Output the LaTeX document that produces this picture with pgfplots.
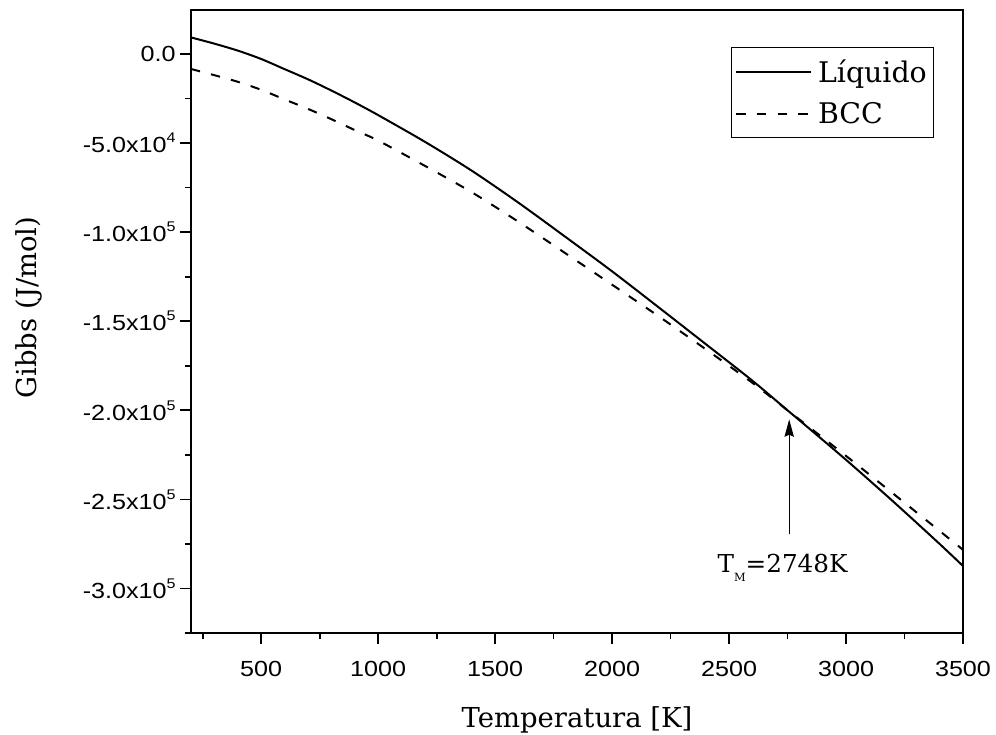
\documentclass[border=0pt]{standalone}
\usepackage{fontspec}
\usepackage{pgfplots}
\pgfplotsset{compat=1.18}
\usetikzlibrary{arrows.meta}
\setmainfont{DejaVu Serif}
\newfontfamily\tickfont[FakeStretch=1.15]{Liberation Sans}
\newcommand\sci[2]{#1x10\raisebox{7.5pt}{\fontsize{10.5}{10.5}\selectfont #2}}
\begin{document}
\begin{tikzpicture}
\path[use as bounding box] (0,0) rectangle (747pt,-551.25pt);
\begin{axis}[
  at={(143.25pt,-474.75pt)}, anchor=south west,
  scale only axis, width=579pt, height=467.25pt,
  xmin=200, xmax=3500, ymin=-325000, ymax=24700,
  axis line style={line width=1.6pt},
  tick align=outside, tick pos=left,
  major tick length=8pt, minor tick length=4.8pt,
  tick style={line width=1.3pt, black},
  xtick={500,1000,1500,2000,2500,3000,3500},
  xticklabels={500,1000,1500,2000,2500,3000,3500},
  minor xtick={250,750,1250,1750,2250,2750,3250},
  ytick={-300000,-250000,-200000,-150000,-100000,-50000,0},
  yticklabels={\sci{-3.0}{5},\sci{-2.5}{5},\sci{-2.0}{5},\sci{-1.5}{5},\sci{-1.0}{5},\sci{-5.0}{4},0.0},
  minor ytick={-325000,-275000,-225000,-175000,-125000,-75000,-25000},
  scaled ticks=false,
  ticklabel style={font=\tickfont\fontsize{16.4}{16.4}\selectfont},
  xticklabel style={yshift=-9.5pt},
  legend style={at={(rel axis cs:0.699,0.940)}, anchor=north west, draw=black, line width=0.75pt,
    inner xsep=3.2pt, inner ysep=7pt, row sep=9.2pt, column sep=2.5pt,
    font=\fontsize{21.3}{21.3}\selectfont, cells={anchor=west}},
  legend image code/.code={\draw[#1] (0pt,0pt) -- (56pt,0pt);},
]
\addplot[black, line width=1.5pt, smooth] table {
T G
200 9300
300 5800
400 1900
500 -2800
600 -8500
700 -14200
800 -20500
900 -27200
1000 -34300
1200 -49300
1400 -65500
1600 -83500
1800 -102600
2000 -122000
2200 -142300
2400 -162800
2600 -183400
2748 -199800
2800 -205500
3000 -227800
3200 -251000
3400 -275000
3500 -287400
};
\addlegendentry{Líquido}
\addplot[black, line width=1.5pt, smooth, dash pattern=on 7pt off 8.5pt] table {
T G
200 -8400
300 -11900
400 -15600
500 -20100
600 -25500
700 -30800
800 -36600
900 -42700
1000 -48600
1200 -62800
1400 -77600
1600 -94200
1800 -111800
2000 -129500
2200 -147300
2400 -165700
2600 -184600
2748 -199800
2800 -205100
3000 -225600
3200 -246600
3400 -267700
3500 -278300
};
\addlegendentry{BCC}
\draw[line width=0.75pt, -{Stealth[length=13pt,width=7pt,inset=1.5pt]}] (axis cs:2757,-269600) -- (axis cs:2757,-205100);
\node[anchor=base west, inner sep=0pt, font=\fontsize{18.5}{18.5}\selectfont] at (axis cs:2450,-291070) {T\raisebox{-6.5pt}{\fontsize{8.5}{8.5}\selectfont M}=2748K};
\end{axis}
\node[anchor=base, inner sep=0pt, font=\fontsize{20.6}{20.6}\selectfont] at (432.75pt,-545.25pt) {Temperatura [K]};
\node[anchor=base, rotate=90, inner sep=0pt, font=\fontsize{20.6}{20.6}\selectfont] at (27.5pt,-230.6pt) {Gibbs (J/mol)};
\end{tikzpicture}
\end{document}
